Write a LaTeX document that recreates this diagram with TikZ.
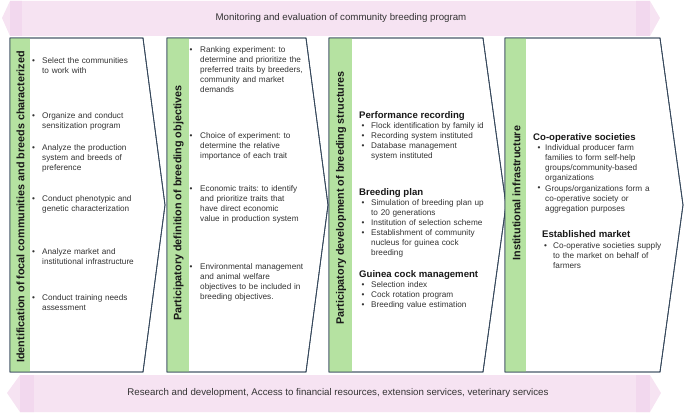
\documentclass[tikz,border=0pt]{standalone}
\usepackage{fontspec}
\setmainfont{Liberation Sans}
\frenchspacing
\definecolor{bandlight}{HTML}{F6E3F2}
\definecolor{banddark}{HTML}{F2D8EE}
\definecolor{stripgreen}{HTML}{B5E2A1}
\definecolor{edge}{HTML}{34465A}
\definecolor{txt}{HTML}{333333}
\begin{document}
\begin{tikzpicture}[x=1pt,y=-1pt,
  panel/.style={fill=white,draw=edge,line width=0.8pt,line join=miter},
  bandtext/.style={inner sep=0,font=\fontsize{9.7}{11}\selectfont,text=txt},
  title/.style={rotate=90,inner sep=0,font=\bfseries\fontsize{10.8}{12}\selectfont,text=black!90},
  bul/.style={anchor=base west,inner sep=0,font=\fontsize{8.2}{10}\selectfont,text=txt},
  itm/.style={anchor=base west,inner sep=0,font=\frenchspacing\fontsize{8.2}{10}\selectfont,text=txt,text width=150pt,align=left},
  head/.style={anchor=base west,inner sep=0,font=\bfseries\fontsize{9.6}{10}\selectfont,text=black!90}]
\useasboundingbox (0,0) rectangle (685,414);

% ---------- bands ----------
\begin{scope}
  \clip (2,18) -- (10,1) -- (650,1) -- (660,18) -- (650,36) -- (10,36) -- cycle;
  \fill[bandlight] (0,0) rectangle (685,40);
  \fill[banddark] (10,0) rectangle (22,40);
  \fill[banddark] (636,0) rectangle (650,40);
\end{scope}
\node[bandtext] (mon) at (341,18) {Monitoring and evaluation of community breeding program};

\begin{scope}
  \clip (7,393) -- (20,375) -- (650,375) -- (661,393) -- (650,412) -- (20,412) -- cycle;
  \fill[bandlight] (0,370) rectangle (685,414);
  \fill[banddark] (20,370) rectangle (34,414);
  \fill[banddark] (636,370) rectangle (650,414);
\end{scope}
\node[bandtext] (rnd) at (338,393) {Research and development, Access to financial resources, extension services, veterinary services};

% ---------- panels ----------
% panel 1
\path[panel] (10,38) -- (143,38) -- (165,205) -- (143,372) -- (10,372) -- cycle;
\fill[stripgreen] (10.4,38.4) rectangle (30,371.6);
\draw[edge,line width=0.8pt] (10,38) -- (143,38) -- (165,205) -- (143,372) -- (10,372) -- cycle;
% panel 2
\path[panel] (167,38) -- (306,38) -- (328,205) -- (306,372) -- (167,372) -- cycle;
\fill[stripgreen] (167.4,38.4) rectangle (189,371.6);
\draw[edge,line width=0.8pt] (167,38) -- (306,38) -- (328,205) -- (306,372) -- (167,372) -- cycle;
% panel 3
\path[panel] (329,38) -- (483,38) -- (506,205) -- (483,372) -- (329,372) -- cycle;
\fill[stripgreen] (329.4,38.4) rectangle (352,371.6);
\draw[edge,line width=0.8pt] (329,38) -- (483,38) -- (506,205) -- (483,372) -- (329,372) -- cycle;
% panel 4
\path[panel] (505,38) -- (660,38) -- (683,205) -- (660,372) -- (505,372) -- cycle;
\fill[stripgreen] (505.4,38.4) rectangle (526,371.6);
\draw[edge,line width=0.8pt] (505,38) -- (660,38) -- (683,205) -- (660,372) -- (505,372) -- cycle;

% ---------- titles ----------
\node[title] (t1) at (20.5,207) {Identification of focal communities and breeds characterized};
\node[title] (t2) at (178.5,203) {Participatory definition of breeding objectives};
\node[title] (t3) at (341,198) {Participatory development of breeding structures};
\node[title] (t4) at (516.5,193) {Institutional infrastructure};

% ---------- panel 1 items ----------
\node[bul] (b11) at (32,63.5) {•};
\node[itm] (i11) at (42,63.5) {Select the communities\\to work with};
\node[bul] (b12) at (32,118.5) {•};
\node[itm] (i12) at (42,118.5) {Organize and conduct\\sensitization program};
\node[bul] (b13) at (32,150.5) {•};
\node[itm] (i13) at (42,150.5) {Analyze the production\\system and breeds of\\preference};
\node[bul] (b14) at (32,201.5) {•};
\node[itm] (i14) at (42,201.5) {Conduct phenotypic and\\genetic characterization};
\node[bul] (b15) at (32,254.5) {•};
\node[itm] (i15) at (42,254.5) {Analyze market and\\institutional infrastructure};
\node[bul] (b16) at (32,300.5) {•};
\node[itm] (i16) at (42,300.5) {Conduct training needs\\assessment};

% ---------- panel 2 items ----------
\node[bul] (b21) at (189.5,52.5) {•};
\node[itm] (i21) at (200,52.5) {Ranking experiment: to\\determine and prioritize the\\preferred traits by breeders,\\community and market\\demands};
\node[bul] (b22) at (189.5,138.5) {•};
\node[itm] (i22) at (200,138.5) {Choice of experiment: to\\determine the relative\\importance of each trait};
\node[bul] (b23) at (189.5,191.5) {•};
\node[itm] (i23) at (200,191.5) {Economic traits: to identify\\and prioritize traits that\\have direct economic\\value in production system};
\node[bul] (b24) at (189.5,269.5) {•};
\node[itm] (i24) at (200,269.5) {Environmental management\\and animal welfare\\objectives to be included in\\breeding objectives.};

% ---------- panel 3 items ----------
\node[head] (h31) at (359,118.5) {Performance recording};
\node[bul] (b31) at (361.5,128.5) {•};
\node[bul] (b32) at (361.5,138.5) {•};
\node[bul] (b33) at (361.5,148.5) {•};
\node[itm] (i31) at (371,128.5) {Flock identification by family id\\Recording system instituted\\Database management\\system instituted};
\node[head] (h32) at (359,195.5) {Breeding plan};
\node[bul] (b34) at (361.5,205.5) {•};
\node[bul] (b35) at (361.5,225.5) {•};
\node[bul] (b36) at (361.5,235.5) {•};
\node[itm] (i32) at (371,205.5) {Simulation of breeding plan up\\to 20 generations\\Institution of selection scheme\\Establishment of community\\nucleus for guinea cock\\breeding};
\node[head] (h33) at (359,277.5) {Guinea cock management};
\node[bul] (b37) at (361.5,287.5) {•};
\node[bul] (b38) at (361.5,297.5) {•};
\node[bul] (b39) at (361.5,307.5) {•};
\node[itm] (i33) at (371,287.5) {Selection index\\Cock rotation program\\Breeding value estimation};

% ---------- panel 4 items ----------
\node[head] (h41) at (533,140.5) {Co-operative societies};
\node[bul] (b41) at (537.5,150.5) {•};
\node[bul] (b42) at (537.5,190.5) {•};
\node[itm] (i41) at (545,150.5) {Individual producer farm\\families to form self-help\\groups/community-based\\organizations\\[0.6pt]Groups/organizations form a\\co-operative society or\\aggregation purposes};
\node[head] (h42) at (542,237.5) {Established market};
\node[bul] (b43) at (544,248.5) {•};
\node[itm] (i43) at (553,248.5) {Co-operative societies supply\\to the market on behalf of\\farmers};
\end{tikzpicture}
\end{document}
